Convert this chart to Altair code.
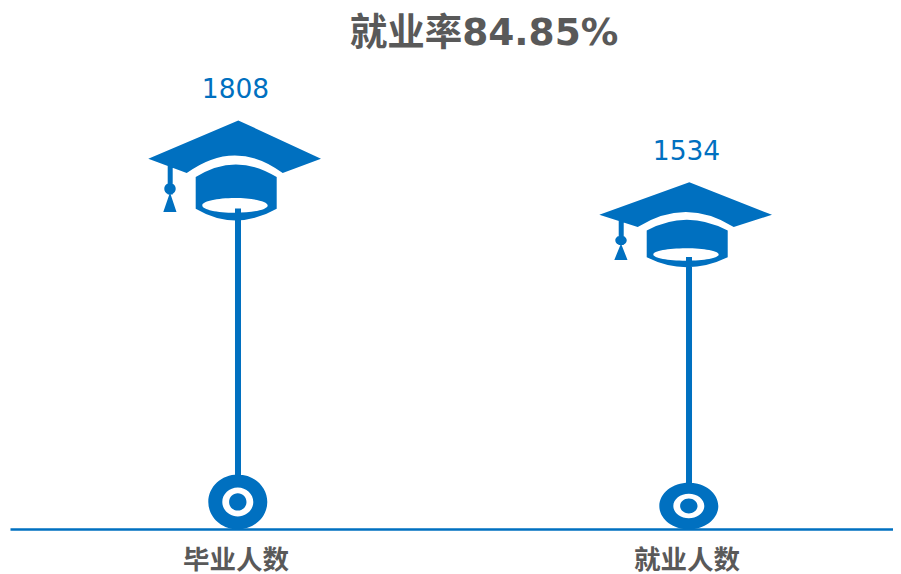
import altair as alt
import pandas as pd

categories = ["毕业人数", "就业人数"]
values = [1808, 1534]
title_text = "就业率84.85%"
BLUE = "#0070C0"
GREY = "#595959"
FONT = "DejaVu Sans, Noto Sans CJK SC"


def ellipse(cx, cy, rx, ry, cw, k):
    m = 0.5523
    cy *= k
    ry *= k
    s = 1 if cw else -1
    return (
        f"M{cx - rx:.2f} {cy:.2f}"
        f"C{cx - rx:.2f} {cy - s * m * ry:.2f} {cx - m * rx:.2f} {cy - s * ry:.2f} {cx:.2f} {cy - s * ry:.2f}"
        f"C{cx + m * rx:.2f} {cy - s * ry:.2f} {cx + rx:.2f} {cy - s * m * ry:.2f} {cx + rx:.2f} {cy:.2f}"
        f"C{cx + rx:.2f} {cy + s * m * ry:.2f} {cx + m * rx:.2f} {cy + s * ry:.2f} {cx:.2f} {cy + s * ry:.2f}"
        f"C{cx - m * rx:.2f} {cy + s * ry:.2f} {cx - rx:.2f} {cy + s * m * ry:.2f} {cx - rx:.2f} {cy:.2f}Z"
    )


def poly(points, k):
    return "M" + "L".join(f"{x:.2f} {y * k:.2f}" for x, y in points) + "Z"


def pictogram(k):
    """Graduate-cap pin, origin at its top; stretched vertically by k as one picture."""
    board = (
        f"M2.8 {0}L85.5 {38.3 * k:.2f}L47.2 {52.7 * k:.2f}"
        f"Q-0.5 {17.3 * k:.2f} -48.8 {52.7 * k:.2f}L-87.2 {38.3 * k:.2f}Z"
    )
    crown = (
        f"M-39.8 {56.7 * k:.2f}Q0 {31.3 * k:.2f} 41.2 {56.7 * k:.2f}L41.2 {88.3 * k:.2f}"
        f"Q0 {111.7 * k:.2f} -39.8 {88.3 * k:.2f}Z"
    )
    hole = ellipse(-0.5, 85, 32.7, 7.3, False, k)
    stem = poly([(-0.5, 88), (5.5, 88), (5.5, 360), (-0.5, 360)], k)
    cord = poly([(-67.8, 45), (-62.8, 45), (-62.8, 74), (-67.8, 74)], k)
    bead = ellipse(-65.5, 68.3, 5.7, 5.7, True, k)
    tassel = poly([(-65.5, 72), (-59, 91.5), (-72.2, 91.5)], k)
    ring = ellipse(2.3, 381.5, 29.5, 27.5, True, k)
    ring_hole = ellipse(2.3, 381.5, 15.5, 14.5, False, k)
    ring_core = ellipse(2.3, 381.5, 8.7, 8.7, True, k)
    return " ".join([board, crown, hole, stem, cord, bead, tassel, ring, ring_hole, ring_core])


df = pd.DataFrame({"cat": categories, "value": values})
paths = [pictogram(v / max(values)) for v in values]

x = alt.X(
    "cat:N",
    sort=categories,
    title=None,
    scale=alt.Scale(type="point", padding=0.4789, align=0.522, domain=categories),
    axis=alt.Axis(
        domainColor=BLUE,
        domainWidth=2.5,
        ticks=False,
        labelAngle=0,
        labelFontSize=26.5,
        labelFontWeight="bold",
        labelColor=GREY,
        labelFont=FONT,
        labelPadding=18.5,
    ),
)
y = alt.Y("value:Q", scale=alt.Scale(domain=[0, 2000], nice=False), axis=None)

pins = alt.Chart(df).mark_point(filled=True, opacity=1, strokeWidth=0).encode(
    x=x,
    y=y,
    size=alt.value(4),
    color=alt.value(BLUE),
    shape=alt.Shape("cat:N", scale=alt.Scale(domain=categories, range=paths), legend=None),
)

labels = alt.Chart(df).mark_text(
    baseline="bottom", dy=-16, fontSize=26.5, font=FONT, color=BLUE
).encode(x=x, y=y, text="value:Q")

chart = (
    alt.layer(pins, labels)
    .properties(
        width=883,
        height=452,
        title=alt.TitleParams(
            title_text,
            fontSize=37.5,
            fontWeight="bold",
            color=GREY,
            font=FONT,
            anchor="middle",
            dx=32.5,
            offset=25,
        ),
        padding={"left": 2, "top": 69, "right": 0, "bottom": 45},
        autosize=alt.AutoSizeParams(type="none"),
    )
    .configure_view(stroke=None)
)

chart.save("out.html", embed_options={"renderer": "svg", "actions": False})
